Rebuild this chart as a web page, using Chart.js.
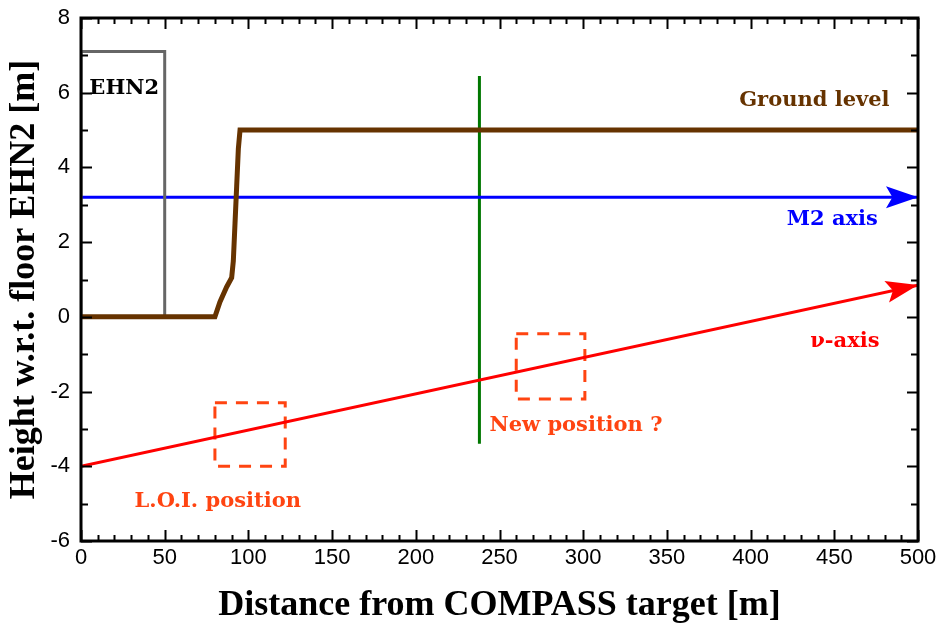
<!DOCTYPE html>
<html>
<head>
<meta charset="utf-8">
<script src="https://cdn.jsdelivr.net/npm/chart.js@4"></script>
<style>
  html, body { margin: 0; padding: 0; background: #fff; }
  #wrap { width: 939px; height: 628px; }
</style>
</head>
<body>
<div id="wrap"><canvas id="chart"></canvas></div>
<script>
// values (x in m, y in m)
const groundX = [0, 80, 83, 87, 90, 91, 92, 93, 94, 95, 500];
const groundY = [0, 0, 0.4, 0.8, 1.05, 1.5, 2.5, 3.5, 4.5, 5, 5];
const hallX = [0, 0, 50, 50, 0];
const hallY = [0, 7.1, 7.1, 0, 0];
const m2X = [0, 500];
const m2Y = [3.2, 3.2];
const nuX = [0, 500];
const nuY = [-4, 0.85];
const cutX = [238, 238];
const cutY = [6.45, -3.4];
const loiX = [80, 122, 122, 80, 80];
const loiY = [-2.3, -2.3, -4.0, -4.0, -2.3];
const newX = [260, 301, 301, 260, 260];
const newY = [-0.45, -0.45, -2.2, -2.2, -0.45];
const xTicks = [0, 50, 100, 150, 200, 250, 300, 350, 400, 450, 500];
const yTicks = [-6, -4, -2, 0, 2, 4, 6, 8];

const toPoints = (xs, ys) => xs.map((x, i) => ({ x: x, y: ys[i] }));

// text notes placed in data coordinates
const notes = [
    { text: 'EHN2', x: 5, y: 6.1, color: '#000', align: 'left' },
    { text: 'Ground level', x: 483, y: 5.8, color: '#663300', align: 'right' },
    { text: 'M2 axis', x: 476, y: 2.6, color: '#0000ff', align: 'right' },
    { text: 'ν-axis', x: 477, y: -0.67, color: '#ff0000', align: 'right' },
    { text: 'New position ?', x: 244, y: -2.9, color: '#ff4411', align: 'left' },
    { text: 'L.O.I. position', x: 32, y: -4.95, color: '#ff4411', align: 'left' },
];

const line = (label, xs, ys, color, width, extra) => Object.assign({
    label: label,
    data: toPoints(xs, ys),
    borderColor: color,
    borderWidth: width,
    pointRadius: 0,
    fill: false,
    tension: 0,
    borderJoinStyle: 'miter',
}, extra || {});

// frame with inside ticks on all four sides, arrow heads, tick labels, text notes
const decorPlugin = {
    id: 'decor',
    afterDatasetsDraw(chart) {
        const { ctx, chartArea: a, scales } = chart;
        const xs = scales.x, ys = scales.y;
        ctx.save();

        // arrow heads at the end of the M2 and nu lines
        chart.data.datasets.forEach((ds, i) => {
            if (!ds.arrow) return;
            const pts = chart.getDatasetMeta(i).data;
            const p1 = pts[pts.length - 2], p2 = pts[pts.length - 1];
            const ang = Math.atan2(p2.y - p1.y, p2.x - p1.x);
            const len = 32, half = 11;
            ctx.save();
            ctx.translate(p2.x, p2.y);
            ctx.rotate(ang);
            ctx.beginPath();
            ctx.moveTo(0, 0);
            ctx.lineTo(-len, -half);
            ctx.lineTo(-len * 0.8, 0);
            ctx.lineTo(-len, half);
            ctx.closePath();
            ctx.fillStyle = ds.borderColor;
            ctx.fill();
            ctx.restore();
        });

        // frame
        ctx.strokeStyle = '#000';
        ctx.lineWidth = 3;
        ctx.strokeRect(a.left, a.top, a.right - a.left, a.bottom - a.top);

        ctx.lineWidth = 2;
        ctx.beginPath();
        for (let v = 0; v <= 500; v += 10) {
            const px = Math.round(xs.getPixelForValue(v)) + 0.5;
            const len = v % 50 === 0 ? 11 : 6;
            ctx.moveTo(px, a.bottom); ctx.lineTo(px, a.bottom - len);
            ctx.moveTo(px, a.top); ctx.lineTo(px, a.top + len);
        }
        for (let v = -6; v <= 8; v += 1) {
            const py = Math.round(ys.getPixelForValue(v)) + 0.5;
            const len = v % 2 === 0 ? 11 : 7;
            ctx.moveTo(a.left, py); ctx.lineTo(a.left + len, py);
            ctx.moveTo(a.right, py); ctx.lineTo(a.right - len, py);
        }
        ctx.stroke();

        // tick labels
        ctx.fillStyle = '#000';
        ctx.font = '22px "Liberation Sans", Arial, sans-serif';
        ctx.textBaseline = 'middle';
        ctx.textAlign = 'center';
        xTicks.forEach((v) => ctx.fillText(String(v), xs.getPixelForValue(v), a.bottom + 17));
        ctx.textAlign = 'right';
        yTicks.forEach((v) => ctx.fillText(String(v), a.left - 11, ys.getPixelForValue(v)));

        // notes
        ctx.font = 'bold 21px "DejaVu Serif", serif';
        notes.forEach((n) => {
            ctx.fillStyle = n.color;
            ctx.textAlign = n.align;
            ctx.fillText(n.text, xs.getPixelForValue(n.x), ys.getPixelForValue(n.y));
        });
        ctx.restore();
    }
};

const titleFont = { family: '"Liberation Serif", "Times New Roman", serif', size: 36, weight: 'bold' };

new Chart(document.getElementById('chart'), {
    type: 'line',
    data: {
        datasets: [
            line('ground', groundX, groundY, '#663300', 5),
            line('EHN2', hallX, hallY, '#666666', 3),
            line('M2 axis', m2X, m2Y, '#0000ff', 3, { arrow: true }),
            line('nu axis', nuX, nuY, '#ff0000', 3, { arrow: true }),
            line('cut', cutX, cutY, '#007700', 3),
            line('LOI', loiX, loiY, '#ff4411', 3, { borderDash: [12, 9] }),
            line('new', newX, newY, '#ff4411', 3, { borderDash: [12, 9] }),
        ]
    },
    options: {
        responsive: true,
        maintainAspectRatio: false,
        animation: false,
        layout: { padding: { top: 18, right: 21, left: 0, bottom: 0 } },
        plugins: {
            legend: { display: false },
            tooltip: { enabled: false },
        },
        scales: {
            x: {
                type: 'linear',
                min: 0,
                max: 500,
                afterFit: (scale) => { scale.height = 87; },
                grid: { display: false, drawTicks: false },
                border: { display: false },
                ticks: { display: false },
                title: { display: true, text: 'Distance from COMPASS target [m]', font: titleFont, color: '#000', padding: { top: 0, bottom: 1 } },
            },
            y: {
                type: 'linear',
                min: -6,
                max: 8,
                afterFit: (scale) => { scale.width = 81; },
                grid: { display: false, drawTicks: false },
                border: { display: false },
                ticks: { display: false },
                title: { display: true, text: 'Height w.r.t. floor EHN2 [m]', font: titleFont, color: '#000', padding: { top: 3, bottom: 0 } },
            },
        },
    },
    plugins: [decorPlugin],
});
</script>
</body>
</html>
